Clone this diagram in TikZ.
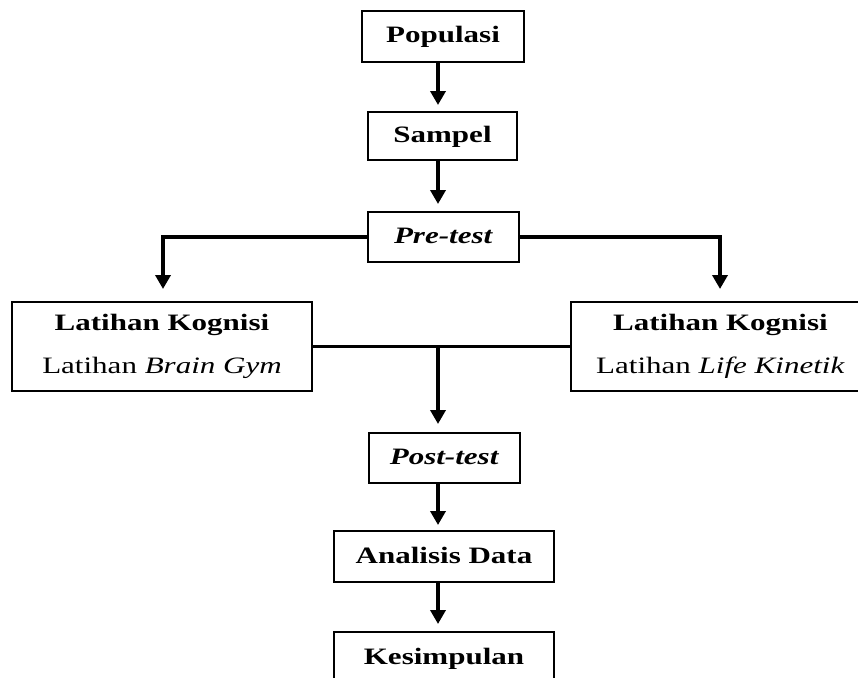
\documentclass[tikz,border=0pt]{standalone}
\usepackage{fontspec}
\setmainfont{Liberation Serif}[FakeStretch=1.32]
\usetikzlibrary{arrows.meta,calc}
\begin{document}
\begin{tikzpicture}[x=1pt,y=-1pt,
  box/.style={draw,line width=2pt,inner sep=0pt,font=\fontsize{23.5}{43}\selectfont\bfseries,align=center},
  oneline/.style={text height=17pt,text depth=4pt},
  conn/.style={line width=3.6pt},
  arr/.style={conn,-{Triangle[width=15pt,length=14pt]},shorten >=7pt},
]
\path[use as bounding box,clip] (0,0) rectangle (858,677);
\fill[white] (0,0) rectangle (858,677);
\coordinate (ax) at (438,0);
\coordinate (lx) at (163,0);
\coordinate (rx) at (720,0);

\node[box,oneline,minimum width=162pt,minimum height=51pt] (pop) at (443,36.5) {Populasi};
\node[box,oneline,minimum width=149pt,minimum height=48pt] (samp) at (442.5,136) {Sampel};
\node[box,oneline,minimum width=151pt,minimum height=50pt] (pre) at (443.5,237) {\textit{Pre-test}};
\node[box,minimum width=300pt,minimum height=89pt] (left) at (162,346.5) {Latihan Kognisi\\{\mdseries Latihan \textit{Brain Gym}}};
\node[box,minimum width=299pt,minimum height=89pt] (right) at (720.5,346.5) {Latihan Kognisi\\{\mdseries Latihan \textit{Life Kinetik}}};
\node[box,oneline,minimum width=151pt,minimum height=50pt] (post) at (444.5,458) {\textit{Post-test}};
\node[box,oneline,minimum width=220pt,minimum height=51pt] (ana) at (444,556.5) {Analisis Data};
\node[box,oneline,minimum width=220pt,minimum height=51pt] (kes) at (444,657.5) {Kesimpulan};

\draw[arr,shorten >=6pt] (pop.south -| ax) -- (samp.north -| ax);
\draw[arr] (samp.south -| ax) -- (pre.north -| ax);
\draw[arr,shorten >=12pt] (pre.west) -- (pre.west -| lx) -- (left.north -| lx);
\draw[arr,shorten >=12pt] (pre.east) -- (pre.east -| rx) -- (right.north -| rx);
\draw[conn] (left.east) -- (right.west);
\coordinate (mid) at (left.east -| ax);
\draw[arr,shorten >=8pt] (mid) -- (post.north -| ax);
\draw[arr,shorten >=5pt] (post.south -| ax) -- (ana.north -| ax);
\draw[arr] (ana.south -| ax) -- (kes.north -| ax);
\end{tikzpicture}
\end{document}
